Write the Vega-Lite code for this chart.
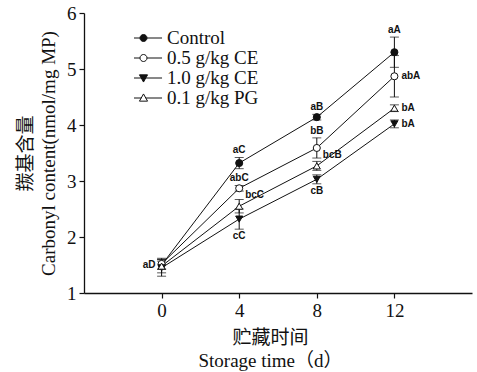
{
  "$schema": "https://vega.github.io/schema/vega-lite/v6.json",
  "autosize": {"type": "none"},
  "width": 388,
  "height": 280,
  "padding": {"left": 84, "top": 13, "right": 5, "bottom": 79},
  "background": "white",
  "config": {
    "view": {"stroke": null},
    "font": "Liberation Serif",
    "axis": {
      "grid": false,
      "domainColor": "#111",
      "domainWidth": 1.3,
      "tickColor": "#111",
      "tickWidth": 1.2,
      "tickSize": 5,
      "labelFont": "Liberation Serif",
      "labelFontSize": 19,
      "labelColor": "#111",
      "titleFont": "'Liberation Serif', 'Noto Sans CJK SC', serif",
      "titleFontSize": 19,
      "titleFontWeight": "normal",
      "titleColor": "#111",
      "titleLineHeight": 23
    }
  },
  "data": {
    "values": [
      {"day": 0, "series": "Control", "value": 1.50, "lo": 1.43, "hi": 1.57, "label": "aD", "place": "left"},
      {"day": 4, "series": "Control", "value": 3.32, "lo": 3.22, "hi": 3.42, "label": "aC", "place": "above"},
      {"day": 8, "series": "Control", "value": 4.14, "lo": 4.09, "hi": 4.19, "label": "aB", "place": "above"},
      {"day": 12, "series": "Control", "value": 5.30, "lo": 5.03, "hi": 5.57, "label": "aA", "place": "above"},
      {"day": 0, "series": "0.5 g/kg CE", "value": 1.52, "lo": 1.42, "hi": 1.62, "label": "", "place": "none"},
      {"day": 4, "series": "0.5 g/kg CE", "value": 2.87, "lo": 2.82, "hi": 2.92, "label": "abC", "place": "above"},
      {"day": 8, "series": "0.5 g/kg CE", "value": 3.59, "lo": 3.41, "hi": 3.77, "label": "bB", "place": "above"},
      {"day": 12, "series": "0.5 g/kg CE", "value": 4.87, "lo": 4.50, "hi": 5.24, "label": "abA", "place": "right"},
      {"day": 0, "series": "1.0 g/kg CE", "value": 1.45, "lo": 1.30, "hi": 1.60, "label": "", "place": "none"},
      {"day": 4, "series": "1.0 g/kg CE", "value": 2.32, "lo": 2.14, "hi": 2.50, "label": "cC", "place": "below"},
      {"day": 8, "series": "1.0 g/kg CE", "value": 3.03, "lo": 2.95, "hi": 3.11, "label": "cB", "place": "below"},
      {"day": 12, "series": "1.0 g/kg CE", "value": 4.02, "lo": 3.95, "hi": 4.09, "label": "bA", "place": "right"},
      {"day": 0, "series": "0.1 g/kg PG", "value": 1.48, "lo": 1.36, "hi": 1.60, "label": "", "place": "none"},
      {"day": 4, "series": "0.1 g/kg PG", "value": 2.55, "lo": 2.43, "hi": 2.67, "label": "bcC", "place": "upright"},
      {"day": 8, "series": "0.1 g/kg PG", "value": 3.27, "lo": 3.19, "hi": 3.35, "label": "bcB", "place": "upright"},
      {"day": 12, "series": "0.1 g/kg PG", "value": 4.30, "lo": 4.24, "hi": 4.36, "label": "bA", "place": "right"}
    ]
  },
  "encoding": {
    "x": {
      "field": "day",
      "type": "quantitative",
      "scale": {"domain": [-4, 16], "nice": false, "zero": false},
      "axis": {"values": [0, 4, 8, 12], "title": ["贮藏时间", "Storage time（d）"], "labelPadding": 3, "titlePadding": 8, "titleX": 186}
    }
  },
  "layer": [
    {
      "mark": {"type": "line", "color": "#111", "strokeWidth": 1},
      "encoding": {
        "y": {
          "field": "value",
          "type": "quantitative",
          "scale": {"domain": [1, 6], "nice": false, "zero": false},
          "axis": {"values": [1, 2, 3, 4, 5, 6], "title": ["羰基含量", "Carbonyl content(nmol/mg MP)"], "labelPadding": 3, "titlePadding": 8}
        },
        "detail": {"field": "series"}
      }
    },
    {
      "mark": {"type": "rule", "color": "#111", "strokeWidth": 1},
      "encoding": {
        "y": {"field": "lo", "type": "quantitative"},
        "y2": {"field": "hi"}
      }
    },
    {
      "mark": {"type": "tick", "orient": "horizontal", "color": "#111", "size": 9, "thickness": 1},
      "encoding": {"y": {"field": "lo", "type": "quantitative"}}
    },
    {
      "mark": {"type": "tick", "orient": "horizontal", "color": "#111", "size": 9, "thickness": 1},
      "encoding": {"y": {"field": "hi", "type": "quantitative"}}
    },
    {
      "mark": {"type": "point", "filled": true, "stroke": "#111", "strokeWidth": 1, "size": 50, "opacity": 1},
      "encoding": {
        "y": {"field": "value", "type": "quantitative"},
        "shape": {
          "field": "series",
          "type": "nominal",
          "scale": {"domain": ["Control", "0.5 g/kg CE", "1.0 g/kg CE", "0.1 g/kg PG"], "range": ["circle", "circle", "triangle-down", "triangle-up"]},
          "legend": null
        },
        "fill": {
          "field": "series",
          "type": "nominal",
          "scale": {"domain": ["Control", "0.5 g/kg CE", "1.0 g/kg CE", "0.1 g/kg PG"], "range": ["#111", "white", "#111", "white"]},
          "legend": null
        }
      }
    },
    {
      "transform": [{"filter": "datum.day < -100"}],
      "mark": {"type": "point", "filled": true, "strokeWidth": 1, "size": 324, "opacity": 1},
      "encoding": {
        "y": {"field": "value", "type": "quantitative"},
        "shape": {
          "field": "series",
          "type": "nominal",
          "scale": {"domain": ["Control", "0.5 g/kg CE", "1.0 g/kg CE", "0.1 g/kg PG"], "range": [
            "M-2.06,0H-0.39M0.39,0H2.06M0.39,0A0.39,0.39 0 1,1 -0.39,0A0.39,0.39 0 1,1 0.39,0Z",
            "M-2.06,0H-0.39M0.39,0H2.06M0.39,0A0.39,0.39 0 1,1 -0.39,0A0.39,0.39 0 1,1 0.39,0Z",
            "M-2.06,0H-0.25M0.25,0H2.06M-0.45,-0.35L0.45,-0.35L0,0.45Z",
            "M-2.06,0H-0.25M0.25,0H2.06M0,-0.45L0.45,0.35L-0.45,0.35Z"
          ]},
          "legend": {
            "title": null,
            "orient": "none",
            "legendX": 50,
            "legendY": 15,
            "symbolSize": 324,
            "symbolStrokeWidth": 1,
            "labelFont": "Liberation Serif",
            "labelFontSize": 19,
            "labelColor": "#111",
            "labelOffset": 14,
            "rowPadding": 0,
            "clipHeight": 20,
            "labelLimit": 300
          }
        },
        "fill": {
          "field": "series",
          "type": "nominal",
          "scale": {"domain": ["Control", "0.5 g/kg CE", "1.0 g/kg CE", "0.1 g/kg PG"], "range": ["#111", "white", "#111", "white"]},
          "legend": {
            "title": null,
            "orient": "none",
            "legendX": 50,
            "legendY": 15,
            "symbolSize": 324,
            "symbolStrokeWidth": 1,
            "labelFont": "Liberation Serif",
            "labelFontSize": 19,
            "labelColor": "#111",
            "labelOffset": 14,
            "rowPadding": 0,
            "clipHeight": 20,
            "labelLimit": 300
          }
        },
        "stroke": {
          "field": "series",
          "type": "nominal",
          "scale": {"domain": ["Control", "0.5 g/kg CE", "1.0 g/kg CE", "0.1 g/kg PG"], "range": ["#111", "#111", "#111", "#111"]},
          "legend": {
            "title": null,
            "orient": "none",
            "legendX": 50,
            "legendY": 15,
            "symbolSize": 324,
            "symbolStrokeWidth": 1,
            "labelFont": "Liberation Serif",
            "labelFontSize": 19,
            "labelColor": "#111",
            "labelOffset": 14,
            "rowPadding": 0,
            "clipHeight": 20,
            "labelLimit": 300
          }
        }
      }
    },
    {
      "transform": [{"filter": "datum.place === 'above'"}],
      "mark": {"type": "text", "font": "Liberation Sans", "fontWeight": "bold", "fontSize": 10, "color": "#111", "baseline": "bottom", "dy": -2},
      "encoding": {"y": {"field": "hi", "type": "quantitative"}, "text": {"field": "label"}}
    },
    {
      "transform": [{"filter": "datum.place === 'below'"}],
      "mark": {"type": "text", "font": "Liberation Sans", "fontWeight": "bold", "fontSize": 10, "color": "#111", "baseline": "top", "dy": 2},
      "encoding": {"y": {"field": "lo", "type": "quantitative"}, "text": {"field": "label"}}
    },
    {
      "transform": [{"filter": "datum.place === 'right'"}],
      "mark": {"type": "text", "font": "Liberation Sans", "fontWeight": "bold", "fontSize": 10, "color": "#111", "align": "left", "baseline": "middle", "dx": 7},
      "encoding": {"y": {"field": "value", "type": "quantitative"}, "text": {"field": "label"}}
    },
    {
      "transform": [{"filter": "datum.place === 'upright'"}],
      "mark": {"type": "text", "font": "Liberation Sans", "fontWeight": "bold", "fontSize": 10, "color": "#111", "align": "left", "baseline": "middle", "dx": 6, "dy": -11},
      "encoding": {"y": {"field": "value", "type": "quantitative"}, "text": {"field": "label"}}
    },
    {
      "transform": [{"filter": "datum.place === 'left'"}],
      "mark": {"type": "text", "font": "Liberation Sans", "fontWeight": "bold", "fontSize": 10, "color": "#111", "align": "right", "baseline": "middle", "dx": -6},
      "encoding": {"y": {"field": "value", "type": "quantitative"}, "text": {"field": "label"}}
    }
  ],
  "resolve": {"scale": {"shape": "independent", "fill": "independent", "stroke": "independent"}}
}
